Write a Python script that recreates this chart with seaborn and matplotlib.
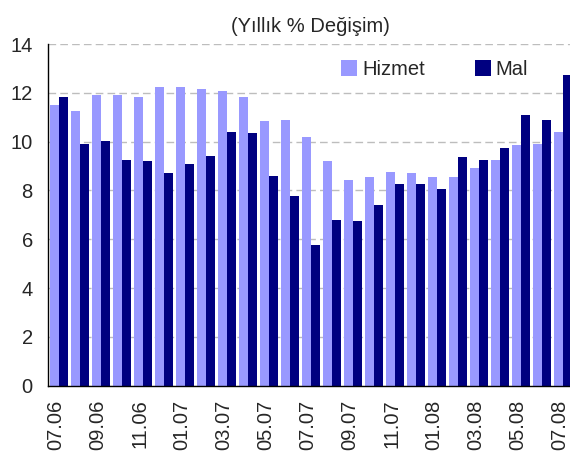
#!/usr/bin/env python3
"""Yillik % degisim: Hizmet vs Mal, monthly bars."""

import matplotlib
matplotlib.use("Agg")
import matplotlib.pyplot as plt
import matplotlib.transforms as mtransforms
import pandas as pd
import seaborn as sns

MONTHS = [
    "07.06", "08.06", "09.06", "10.06", "11.06", "12.06",
    "01.07", "02.07", "03.07", "04.07", "05.07", "06.07",
    "07.07", "08.07", "09.07", "10.07", "11.07", "12.07",
    "01.08", "02.08", "03.08", "04.08", "05.08", "06.08", "07.08",
]
HIZMET = [
    11.50, 11.26, 11.91, 11.91, 11.83, 12.24,
    12.24, 12.16, 12.07, 11.83, 10.85, 10.89,
    10.19, 9.21, 8.43, 8.55, 8.76, 8.71,
    8.55, 8.55, 8.92, 9.25, 9.86, 9.90, 10.39,
]
MAL = [
    11.83, 9.90, 10.03, 9.25, 9.21, 8.71,
    9.08, 9.41, 10.39, 10.35, 8.59, 7.77,
    5.76, 6.79, 6.75, 7.40, 8.26, 8.26,
    8.06, 9.37, 9.25, 9.74, 11.09, 10.89, 12.73,
]
SERIES = ["Hizmet", "Mal"]
COLORS = {"Hizmet": "#9999FF", "Mal": "#000080"}
TITLE = "(Yıllık % Değişim)"
FS = 14.5


def main() -> None:
    sns.set_theme(style="white")
    plt.rcParams["font.family"] = ["Liberation Sans", "DejaVu Sans"]

    df = pd.DataFrame(
        {
            "month": MONTHS * 2,
            "series": ["Hizmet"] * len(MONTHS) + ["Mal"] * len(MONTHS),
            "value": HIZMET + MAL,
        }
    )

    fig = plt.figure(figsize=(5.7, 4.57), dpi=100)
    ax = fig.add_axes([0.085, 0.156, 0.921, 0.7477])

    sns.barplot(
        data=df,
        x="month",
        y="value",
        hue="series",
        order=MONTHS,
        hue_order=SERIES,
        palette=COLORS,
        saturation=1,
        width=0.82,
        gap=0,
        errorbar=None,
        linewidth=0,
        ax=ax,
    )

    ax.set_xlim(-0.5, len(MONTHS) - 0.5)
    ax.set_ylim(0, 14)
    ax.set_yticks(range(0, 15, 2))
    ax.set_yticklabels([str(v) for v in range(0, 15, 2)], fontsize=FS)

    ax.set_xticks(range(0, len(MONTHS), 2))
    ax.set_xticklabels(MONTHS[::2], rotation=90, fontsize=FS)
    ax.set_xticks([i - 0.5 for i in range(0, len(MONTHS), 2)], minor=True)
    ax.tick_params(axis="x", which="major", length=0, pad=10)
    ax.tick_params(axis="x", which="minor", length=4.3, width=0.8,
                   color="black", direction="out")
    ax.tick_params(axis="y", length=4.3, width=0.8, color="black",
                   direction="out", pad=7)

    # labels sit a little left of the category centre, as in the original
    shift = mtransforms.ScaledTranslation(-3 / 100, 0, fig.dpi_scale_trans)
    for label in ax.get_xticklabels():
        label.set_transform(label.get_transform() + shift)

    ax.set_xlabel("")
    ax.set_ylabel("")

    ax.yaxis.grid(True, color="#BDBDBD", linestyle=(0, (5.5, 3)), linewidth=1)
    ax.set_axisbelow(True)

    for side in ["top", "right"]:
        ax.spines[side].set_visible(False)
    for side in ["left", "bottom"]:
        ax.spines[side].set_color("black")
        ax.spines[side].set_linewidth(1)

    ax.set_title(TITLE, fontsize=FS, pad=9)

    ax.legend(
        title="",
        ncol=2,
        frameon=False,
        loc="upper left",
        bbox_to_anchor=(0.558, 0.953),
        borderpad=0,
        borderaxespad=0,
        fontsize=FS,
        handlelength=0.8,
        handleheight=0.8,
        handletextpad=0.25,
        columnspacing=2.45,
    )

    fig.savefig("out.png", dpi=100, facecolor="white")
    plt.close(fig)


if __name__ == "__main__":
    main()
